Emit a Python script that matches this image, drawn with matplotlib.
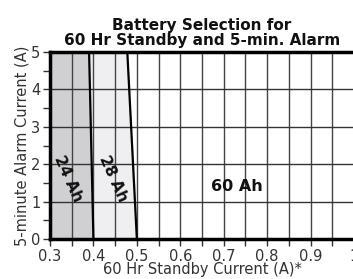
import matplotlib.pyplot as plt
import numpy as np

# boundary lines between battery sizes: (standby current at 5 A, at 0 A)
ah24_x = [0.39, 0.40]
ah28_x = [0.478, 0.50]
alarm_y = [5, 0]

xticks = [0.3, 0.4, 0.5, 0.6, 0.7, 0.8, 0.9, 1.0]
xtick_labels = ['0.3', '0.4', '0.5', '0.6', '0.7', '0.8', '0.9', '1']
yticks = [0, 1, 2, 3, 4, 5]

fig = plt.figure(figsize=(3.53, 2.79), dpi=100)
ax = fig.add_axes([50 / 353, 40 / 279, 304 / 353, 187 / 279])
ax.set_xlim(0.3, 1.0)
ax.set_ylim(0, 5)

# shaded regions
ax.fill_betweenx(alarm_y, [0.3, 0.3], ah24_x, color='#d0d0d3', zorder=0)
ax.fill_betweenx(alarm_y, ah24_x, ah28_x, color='#efeff2', zorder=0)

# grid
for x in np.arange(0.35, 1.0, 0.05):
    ax.axvline(x, color='#444444', lw=1.0, zorder=1)
for y in yticks[1:-1]:
    ax.axhline(y, color='#333333', lw=1.0, zorder=1)

ax.plot(ah24_x, alarm_y, color='black', lw=1.6, zorder=3)
ax.plot(ah28_x, alarm_y, color='black', lw=1.6, zorder=3)

ax.text(0.342, 1.6, '24 Ah', rotation=-66, ha='center', va='center',
        fontsize=11, fontweight='heavy', color='#111111', zorder=4)
ax.text(0.446, 1.6, '28 Ah', rotation=-66, ha='center', va='center',
        fontsize=11, fontweight='heavy', color='#111111', zorder=4)
ax.text(0.73, 1.4, '60 Ah', ha='center', va='center',
        fontsize=11.5, fontweight='heavy', color='#111111', zorder=4)

ax.set_xticks(xticks)
ax.set_xticklabels(xtick_labels)
ax.set_xticks(np.arange(0.35, 1.0, 0.1), minor=True)
ax.set_yticks(yticks)
ax.set_yticks([0.5, 1.5, 2.5, 3.5, 4.5], minor=True)
ax.tick_params(which='both', direction='out', length=5, width=1, color='#333333',
               labelsize=10.5, labelcolor='#333333', pad=2)

for side in ['left', 'bottom', 'top']:
    ax.spines[side].set_linewidth(2.5)
    ax.spines[side].set_color('black')
ax.spines['right'].set_visible(False)

ax.set_xlabel('60 Hr Standby Current (A)*', fontsize=10.5, color='#333333', labelpad=-1)
ax.set_ylabel('5-minute Alarm Current (A)', fontsize=10.5, color='#333333', labelpad=1)
ax.set_title('Battery Selection for\n60 Hr Standby and 5-min. Alarm',
             fontsize=11, fontweight='bold', color='#111111', pad=5, linespacing=1.0)

fig.savefig('out.png', dpi=100)
